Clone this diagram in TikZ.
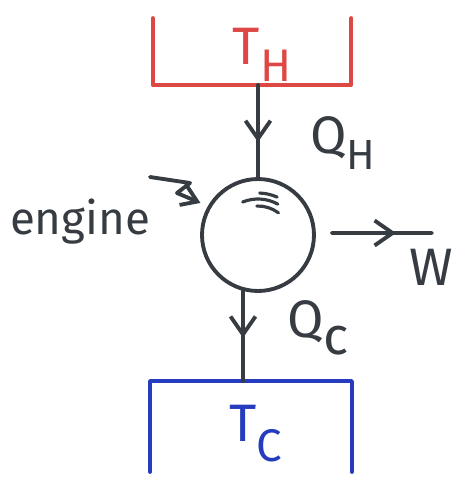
\documentclass[tikz,border=0pt]{standalone}
\usepackage{fontspec}
\setmainfont{Fira Sans}
\usetikzlibrary{arrows.meta,decorations.markings}
\definecolor{inkgray}{RGB}{55,60,66}
\definecolor{hotred}{RGB}{222,72,68}
\definecolor{coldblue}{RGB}{38,60,190}

\begin{document}
\begin{tikzpicture}[
  x=0.02cm, y=-0.02cm, inkgray,
  line width=2.2pt, line cap=round, line join=round,
  every node/.style={inner sep=0pt},
  reservoir/.style={minimum width=3.9cm, inner sep=0pt},
  lbl/.style={font=\fontsize{30}{32}\selectfont},
  flow/.style={postaction={decorate},
    decoration={markings, mark=at position #1 with {\arrow{Straight Barb[length=3.6mm,width=5mm]}}}},
  pointer/.style={-{Straight Barb[length=3mm,width=4mm]}, shorten >=0.16cm},
]
\useasboundingbox (0,0) rectangle (462,485);

% Reservoirs
\node[reservoir, minimum height=1.26cm] (hot) at (252,51.5) {};
\draw[hotred] (hot.north west) -- (hot.south west) -- (hot.south east) -- (hot.north east);
\node[reservoir, minimum width=3.96cm, minimum height=1.74cm] (cold) at (251,426.5) {};
\draw[coldblue] (cold.south west) -- (cold.north west) -- (cold.north east) -- (cold.south east);

\node[lbl, hotred] (th) at (262,55) {T\raisebox{-0.32em}{\fontsize{26}{28}\selectfont H}};
\node[lbl, coldblue] (tc) at (256,434) {T\raisebox{-0.38em}{\fontsize{26}{28}\selectfont C}};

% Engine
\node[circle, draw, minimum size=2.24cm] (engine) at (258,235) {};
\foreach \r/\a/\b in {47/-88/-66, 41/-112/-61, 34/-92/-53}
  \draw[line width=1.8pt] ([shift={(\a:\r)}]258,240) arc[start angle=\a, end angle=\b, radius=\r];

\node[font=\fontsize{26}{28}\selectfont] (enginelbl) at (80,222) {engine};
\coordinate (zz) at (150,177);
\draw[pointer] (zz) -- ++(40,6) -- ++(-13,10) -- (engine.150);

% Heat and work
\draw[flow=0.62] (engine.north |- hot.south) -- (engine.north);
\draw[flow=0.52] (engine.-105) -- (engine.-105 |- cold.north);
\coordinate (wend) at (432,233);
\draw[flow=0.64] ([xshift=0.32cm, yshift=0.04cm]engine.east) -- (wend);

\node[lbl] (qh) at (343,143) {Q\raisebox{-0.3em}{\fontsize{24}{26}\selectfont H}};
\node[lbl] (qc) at (318,328) {Q\raisebox{-0.32em}{c}};
\node[lbl] (w) at (431,267) {W};

\end{tikzpicture}
\end{document}
